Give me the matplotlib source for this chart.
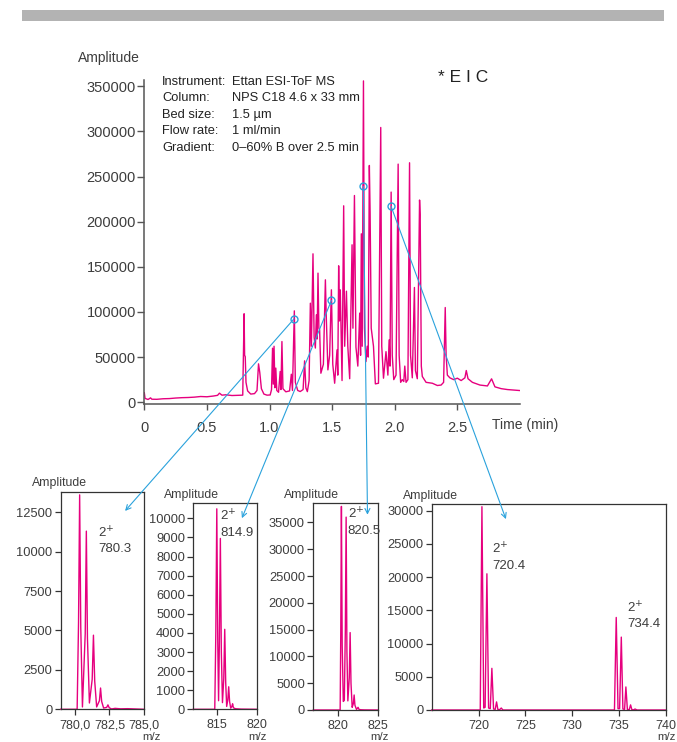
import matplotlib
matplotlib.use('Agg')
import matplotlib.pyplot as plt
from matplotlib.patches import ConnectionPatch, Rectangle
from matplotlib.ticker import FuncFormatter

plt.rcParams['font.family'] = ['Liberation Sans', 'DejaVu Sans']

pink = '#e6007e'
blue = '#2aa2dc'
txt = '#3d3d3d'

# extracted ion chromatogram
time_min = [0.000, 0.006, 0.030, 0.050, 0.060, 0.100, 0.150, 0.200, 0.250, 0.300,
            0.350, 0.400, 0.450, 0.500, 0.550, 0.585, 0.600, 0.620, 0.650, 0.700,
            0.750, 0.786, 0.797, 0.801, 0.806, 0.812, 0.825, 0.850, 0.880, 0.900,
            0.912, 0.922, 0.935, 0.955, 0.980, 1.005, 1.016, 1.024, 1.030, 1.036,
            1.043, 1.050, 1.058, 1.072, 1.085, 1.091, 1.099, 1.107, 1.130, 1.160,
            1.174, 1.183, 1.198, 1.206, 1.225, 1.245, 1.268, 1.280, 1.290, 1.302,
            1.316, 1.326, 1.334, 1.347, 1.356, 1.366, 1.374, 1.380, 1.387, 1.394,
            1.400, 1.410, 1.430, 1.446, 1.452, 1.466, 1.480, 1.494, 1.505, 1.520,
            1.539, 1.545, 1.552, 1.558, 1.565, 1.579, 1.592, 1.600, 1.614, 1.625,
            1.640, 1.659, 1.666, 1.678, 1.690, 1.705, 1.720, 1.727, 1.733, 1.740,
            1.750, 1.758, 1.770, 1.780, 1.788, 1.797, 1.803, 1.812, 1.830, 1.845,
            1.870, 1.888, 1.896, 1.910, 1.930, 1.945, 1.955, 1.962, 1.971, 1.980,
            1.992, 2.010, 2.027, 2.035, 2.047, 2.060, 2.072, 2.080, 2.090, 2.105,
            2.118, 2.126, 2.140, 2.157, 2.165, 2.180, 2.198, 2.203, 2.212, 2.220,
            2.250, 2.300, 2.340, 2.370, 2.390, 2.403, 2.410, 2.420, 2.440, 2.470,
            2.500, 2.530, 2.560, 2.571, 2.585, 2.620, 2.680, 2.740, 2.773, 2.800,
            2.850, 2.900, 2.950, 3.000]
eic_amp = [10500, 4200, 3000, 4800, 3300, 3200, 3800, 4000, 4600, 5000,
           5200, 5600, 6300, 6000, 6800, 7600, 10000, 7800, 8200, 7400,
           7600, 7800, 98000, 52000, 50500, 22000, 12500, 9000, 9500, 13000,
           42500, 33000, 15000, 9000, 7800, 8000, 14000, 59800, 20000, 62000,
           16000, 37800, 13000, 11000, 34000, 14000, 67200, 15000, 11500, 12500,
           31000, 13000, 101200, 22000, 13000, 11800, 14000, 45800, 16000, 11700,
           24000, 109700, 62000, 164400, 72000, 60000, 96800, 70000, 143000, 82000,
           80000, 32100, 42000, 135600, 100000, 35800, 52000, 124500, 42000, 21000,
           58000, 30000, 151100, 90000, 124500, 24000, 217600, 62000, 123000, 62000,
           26000, 174400, 82000, 229000, 61000, 40000, 98700, 52000, 186600, 62000,
           356000, 82000, 45000, 62000, 50000, 262300, 211000, 82000, 62000, 20300,
           21000, 304400, 62000, 26600, 56000, 30000, 69000, 40000, 232800, 52000,
           25000, 30000, 263800, 52000, 22000, 25000, 22900, 40000, 22000, 25000,
           265300, 52000, 27000, 127100, 35000, 26000, 224000, 207700, 40000, 28500,
           22000, 21000, 18500, 19000, 22000, 104900, 52000, 30000, 27000, 25000,
           26600, 24000, 27000, 35100, 26000, 22000, 19000, 18000, 25900, 17000,
           15000, 14000, 13500, 12900]

# points whose spectra are shown below
pick_t = [1.195, 1.494, 1.749, 1.971]
pick_a = [92300, 112700, 239000, 216900]

info_keys = ['Instrument:', 'Column:', 'Bed size:', 'Flow rate:', 'Gradient:']
info_vals = ['Ettan ESI-ToF MS', 'NPS C18 4.6 x 33 mm', '1.5 µm', '1 ml/min',
             '0–60% B over 2.5 min']

# mass spectra
mz1 = [779.0, 780.18, 780.28, 780.36, 780.44, 780.56, 780.76, 780.84, 780.92, 781.06,
       781.26, 781.35, 781.44, 781.58, 781.78, 781.86, 781.94, 782.08, 782.30, 782.39,
       782.48, 782.65, 782.9, 783.3, 783.8, 784.4, 785.0]
amp1 = [0, 0, 5500, 13600, 5200, 150, 4800, 11300, 4500, 400,
        1900, 4700, 1800, 150, 550, 1350, 500, 80, 120, 280,
        100, 20, 60, 30, 40, 20, 0]

mz2 = [812.1, 814.75, 814.88, 815.0, 815.12, 815.22, 815.32, 815.44, 815.56, 815.7,
       815.86, 815.98, 816.1, 816.22, 816.36, 816.47, 816.58, 816.72, 816.86, 816.95,
       817.05, 817.3, 818.0, 820.0]
amp2 = [0, 0, 4000, 10500, 3500, 450, 3600, 8950, 3000, 350,
        1600, 4190, 1400, 150, 500, 1180, 400, 60, 150, 290,
        80, 30, 10, 0]

mz3 = [816.8, 820.22, 820.30, 820.38, 820.48, 820.62, 820.75, 820.88, 820.98, 821.08,
       821.20, 821.38, 821.49, 821.60, 821.75, 821.90, 822.0, 822.1, 822.3, 822.5,
       822.6, 822.8, 823.3, 825.0]
amp3 = [0, 0, 15000, 38000, 12000, 1600, 1800, 15000, 36000, 11000,
        1700, 6000, 14450, 5000, 500, 1200, 2800, 900, 100, 500,
        150, 50, 20, 0]

mz4 = [715.0, 720.18, 720.36, 720.55, 720.70, 720.89, 721.07, 721.25, 721.42, 721.60,
       721.78, 721.92, 722.06, 722.25, 722.42, 722.6, 734.5, 734.69, 734.88, 735.05,
       735.23, 735.40, 735.58, 735.72, 735.88, 736.08, 736.22, 736.36, 736.55, 736.7,
       736.9, 740.0]
amp4 = [0, 0, 30600, 300, 400, 20500, 300, 200, 6270, 150,
        100, 1220, 80, 50, 300, 0, 0, 13930, 200, 200,
        10970, 150, 100, 3470, 80, 50, 770, 40, 30, 150,
        0, 0]

spectra = [(mz1, amp1), (mz2, amp2), (mz3, amp3), (mz4, amp4)]

W, H = 677, 742


def fx(x):
    return x / W


def fy(y):
    return 1 - y / H


fig = plt.figure(figsize=(W / 100, H / 100), dpi=100)

# grey header bar
fig.patches.append(Rectangle((fx(22), fy(21)), 642 / W, 11 / H, transform=fig.transFigure,
                             color='#b3b3b3', lw=0))

# main chromatogram
ax = fig.add_axes([fx(144.3), fy(404), (520 - 144.3) / W, (404 - 80) / H])
ax.plot(time_min, eic_amp, color=pink, lw=1.0)
ax.plot(pick_t, pick_a, 'o', mfc='none', mec=blue, ms=5, mew=1.0)
ax.set_xlim(0, 3.0)
ax.set_ylim(-2000, 357000)
ax.set_xticks([0, 0.5, 1.0, 1.5, 2.0, 2.5])
ax.set_xticklabels(['0', '0.5', '1.0', '1.5', '2.0', '2.5'])
ax.set_yticks(range(0, 350001, 50000))
ax.yaxis.set_major_formatter(FuncFormatter(lambda v, p: '%d' % v))
for s in ['top', 'right']:
    ax.spines[s].set_visible(False)
for s in ['left', 'bottom']:
    ax.spines[s].set_color('#555555')
    ax.spines[s].set_linewidth(1.1)
ax.tick_params(axis='y', direction='out', length=5, width=1, color='#555555',
               labelsize=10.5, labelcolor=txt, pad=1)
ax.tick_params(axis='x', direction='out', length=4, width=1, color='#555555',
               labelsize=10.5, labelcolor=txt, pad=8)
ax.set_facecolor('none')

fig.text(fx(78), fy(58), 'Amplitude', fontsize=10, color=txt, va='center')
fig.text(fx(492), fy(425), 'Time (min)', fontsize=10, color=txt, va='center')
fig.text(fx(438), fy(78), '* E I C', fontsize=12.5, color='#222222', va='center')

for i, (k, v) in enumerate(zip(info_keys, info_vals)):
    yy = fy(82 + i * 16.4)
    fig.text(fx(162), yy, k, fontsize=9.3, color='#222222', va='center')
    fig.text(fx(232), yy, v, fontsize=9.3, color='#222222', va='center')

# spectra panels: box in pixels (left, right, top, bottom)
boxes = [(60.7, 144.3, 491.7, 709.3), (193.3, 257.3, 503.3, 709.3),
         (313.3, 377.7, 503.3, 710), (431.7, 666, 504.3, 710)]
xlims = [(779.0, 785.0), (812.1, 820.0), (816.8, 825.0), (715.0, 740.0)]
ylims = [13800, 10790, 38580, 30960]
xticks = [[780.0, 782.5, 785.0], [815, 820], [820, 825], [720, 725, 730, 735, 740]]
yticks = [range(0, 12501, 2500), range(0, 10001, 1000), range(0, 35001, 5000),
          range(0, 30001, 5000)]
tips = [(783.62, 12580), (818.1, 10010), (823.7, 36450), (722.92, 28730)]
labels = [[(781.7, 11690, '780.3')], [(815.4, 10540, '814.9')], [(821.2, 38020, '820.5')],
          [(721.43, 25400, '720.4'), (735.82, 16570, '734.4')]]
mz_off = [7, 0, 2, 0]

for i, (l, r, t, b) in enumerate(boxes):
    sub = fig.add_axes([fx(l), fy(b), (r - l) / W, (b - t) / H])
    mz, amp = spectra[i]
    sub.plot(mz, amp, color=pink, lw=1.0, clip_on=False)
    sub.set_xlim(*xlims[i])
    sub.set_ylim(0, ylims[i])
    sub.set_xticks(xticks[i])
    sub.set_yticks(list(yticks[i]))
    if i == 0:
        sub.xaxis.set_major_formatter(FuncFormatter(lambda v, p: ('%.1f' % v).replace('.', ',')))
    for s in sub.spines.values():
        s.set_color('#333333')
        s.set_linewidth(0.9)
    sub.tick_params(axis='y', direction='out', length=4, width=0.9, color='#333333',
                    labelsize=9.3, labelcolor=txt, pad=2)
    sub.tick_params(axis='x', direction='out', length=4, width=0.9, color='#333333',
                    labelsize=9.0, labelcolor=txt, pad=3)
    for (x0, y0, s) in labels[i]:
        sub.text(x0, y0, '2$^{+}$\n' + s, fontsize=9.5, color=txt, va='top', ha='left',
                 linespacing=1.35)
    fig.text(fx(l - 29), fy(t - 8.5), 'Amplitude', fontsize=8.8, color=txt, va='center')
    fig.text(fx(r + mz_off[i]), fy(737), 'm/z', fontsize=8.2, color=txt,
             va='center', ha='center')
    con = ConnectionPatch(xyA=(pick_t[i], pick_a[i]), coordsA=ax.transData,
                          xyB=tips[i], coordsB=sub.transData,
                          arrowstyle='->', color=blue, lw=0.8, mutation_scale=9)
    fig.add_artist(con)

fig.savefig('out.png', dpi=100)
